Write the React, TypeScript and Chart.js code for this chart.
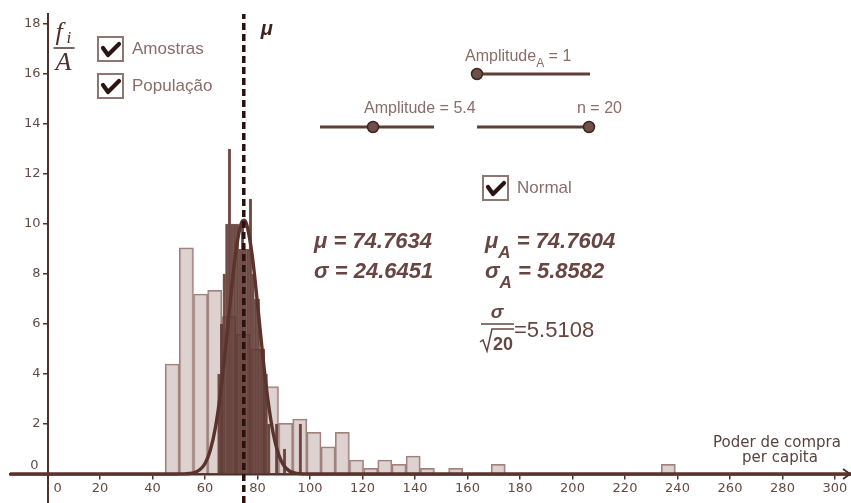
import React, { useEffect, useRef } from 'react';
import { Chart, registerables } from 'chart.js';

Chart.register(...registerables);

// ---- axis ranges / ticks ----
const X_MIN = -14.3;
const X_MAX = 306.1;
const Y_MIN = -1.16;
const Y_MAX = 18.4;
const X_TICK_STEP = 20;
const Y_TICK_STEP = 2;

// ---- population histogram (Amplitude = 5.4), bin centres and f_i/A ----
const popCenters = [
  47.5, 52.9, 58.3, 63.7, 69.1, 74.5, 79.9, 85.3, 90.7, 96.1, 101.5, 106.9,
  112.3, 117.7, 123.1, 128.5, 133.9, 139.3, 144.7, 150.1, 155.5, 160.9, 166.3, 171.7,
  177.1, 182.5, 187.9, 193.3, 198.7, 204.1, 209.5, 214.9, 220.3, 225.7, 231.1, 236.5,
];
const popHeights = [
  4.4, 9.05, 7.2, 7.35, 6.3, 5.6, 5.0, 3.5, 2.03, 2.2, 1.67, 1.09,
  1.67, 0.56, 0.23, 0.56, 0.39, 0.72, 0.23, 0, 0.23, 0, 0, 0.39,
  0, 0, 0, 0, 0, 0, 0, 0, 0, 0, 0, 0.39,
];

// ---- sample means histogram (Amplitude_A = 1) ----
const sampleCenters = [
  65.3, 66.3, 67.3, 68.3, 69.3, 70.3, 71.3, 72.3, 73.3, 74.3, 75.3, 76.3,
  77.3, 78.3, 79.3, 80.3, 81.3, 82.3, 83.3, 84.3, 85.3, 86.3, 87.3, 88.3,
  89.3, 90.3, 91.3, 92.3, 93.3, 94.3, 95.3, 96.3,
];
const sampleHeights = [
  4, 6, 8, 10, 13, 10, 10, 10, 9, 10, 9, 9,
  11, 8, 7, 7, 5, 5, 4, 2, 0, 0, 2, 0,
  0, 1, 0, 0, 0, 0, 0, 2,
];

// ---- normal curve ----
const curveX = [
  -14.3, 44, 48, 52, 54, 56, 58, 60, 62, 64, 66, 68, 70, 72, 74, 75, 76, 78,
  80, 82, 84, 86, 88, 90, 92, 94, 96, 100, 306.1,
];
const curveY = [
  0, 0, 0, 0.005, 0.019, 0.06, 0.17, 0.42, 0.95, 1.88, 3.32, 5.22, 7.3, 9.09, 10.07, 10.15, 9.93, 8.72,
  6.81, 4.73, 2.93, 1.61, 0.79, 0.34, 0.13, 0.046, 0.014, 0, 0,
];

// ---- statistics / widget values ----
const MU_POP = 74.7634;
const SIGMA_POP = 24.6451;
const MU_A = 74.7604;
const SIGMA_A = 5.8582;
const SE = 5.5108;
const N_SAMPLE = 20;
const AMPLITUDE = 5.4;
const AMPLITUDE_A = 1;

const AXIS_COLOR = '#4f2f2a';
const TICK_COLOR = '#634a45';
const WIDGET_TEXT = '#8a6d68';
const STAT_TEXT = '#674540';

function drawCheckbox(ctx: CanvasRenderingContext2D, x: number, y: number, label: string) {
  const w = 27;
  const h = 26;
  ctx.save();
  ctx.fillStyle = '#ffffff';
  ctx.fillRect(x, y, w, h);
  ctx.strokeStyle = '#8f7672';
  ctx.lineWidth = 2;
  ctx.strokeRect(x + 1, y + 1, w - 2, h - 2);
  ctx.strokeStyle = '#2b1512';
  ctx.lineWidth = 4.2;
  ctx.lineCap = 'round';
  ctx.lineJoin = 'round';
  ctx.beginPath();
  ctx.moveTo(x + 6, y + 12);
  ctx.lineTo(x + 11, y + 19);
  ctx.lineTo(x + 22, y + 8);
  ctx.stroke();
  ctx.fillStyle = WIDGET_TEXT;
  ctx.font = '17px "Liberation Sans"';
  ctx.textBaseline = 'middle';
  ctx.textAlign = 'left';
  ctx.fillText(label, x + w + 8, y + h / 2);
  ctx.restore();
}

function drawSlider(ctx: CanvasRenderingContext2D, x1: number, x2: number, y: number, p: number) {
  ctx.save();
  ctx.strokeStyle = '#5e3e39';
  ctx.lineWidth = 3;
  ctx.beginPath();
  ctx.moveTo(x1, y);
  ctx.lineTo(x2, y);
  ctx.stroke();
  ctx.beginPath();
  ctx.arc(p, y, 5.5, 0, Math.PI * 2);
  ctx.fillStyle = '#6f4f4a';
  ctx.fill();
  ctx.strokeStyle = '#3d2521';
  ctx.lineWidth = 1.5;
  ctx.stroke();
  ctx.restore();
}

const boldIt = (s: number) => `italic bold ${s}px "Liberation Sans"`;

const overlay = {
  id: 'overlay',
  afterDraw(chart: any) {
    const { ctx, scales, chartArea } = chart;
    const xs = scales.x;
    const ys = scales.y;
    const x0 = xs.getPixelForValue(0);
    const y0 = ys.getPixelForValue(0);
    ctx.save();

    // y tick labels, from the y scale's own ticks
    ctx.fillStyle = TICK_COLOR;
    ctx.font = '13px "DejaVu Sans"';
    ctx.textBaseline = 'middle';
    ctx.textAlign = 'right';
    for (const t of ys.ticks) {
      const py = ys.getPixelForValue(t.value);
      if (t.value === 0) ctx.fillText('0', x0 - 9, py - 8);
      else ctx.fillText(String(t.value), x0 - 7, py);
    }
    // x zero label (GeoGebra style)
    ctx.textAlign = 'center';
    ctx.fillText('0', x0 + 10, y0 + 15);

    // arrow at the end of x axis
    ctx.strokeStyle = AXIS_COLOR;
    ctx.lineWidth = 2;
    ctx.beginPath();
    ctx.moveTo(chartArea.right - 8, y0 - 5);
    ctx.lineTo(chartArea.right - 1, y0);
    ctx.lineTo(chartArea.right - 8, y0 + 5);
    ctx.stroke();

    // x axis title
    ctx.fillStyle = '#5a433f';
    ctx.font = '15px "DejaVu Sans"';
    ctx.textAlign = 'center';
    ctx.textBaseline = 'alphabetic';
    ctx.fillText('Poder de compra', chartArea.right - 74, y0 - 27);
    ctx.fillText('per capita', chartArea.right - 71, y0 - 12);

    // y axis title f_i / A
    ctx.fillStyle = '#4f302b';
    ctx.textAlign = 'left';
    ctx.font = 'italic 26px "Liberation Serif"';
    ctx.fillText('f', x0 + 8, 40);
    ctx.font = 'italic 17px "Liberation Serif"';
    ctx.fillText('i', x0 + 19, 43);
    ctx.strokeStyle = '#4f302b';
    ctx.lineWidth = 1.5;
    ctx.beginPath();
    ctx.moveTo(x0 + 6, 48);
    ctx.lineTo(x0 + 27, 48);
    ctx.stroke();
    ctx.font = 'italic 26px "Liberation Serif"';
    ctx.textAlign = 'center';
    ctx.fillText('A', x0 + 16, 70);

    // mu label by the dashed line
    const xm = xs.getPixelForValue(MU_POP);
    ctx.fillStyle = '#3e221e';
    ctx.font = boldIt(20);
    ctx.textAlign = 'left';
    ctx.fillText('μ', xm + 17, 35);

    // checkboxes
    drawCheckbox(ctx, 97, 36, 'Amostras');
    drawCheckbox(ctx, 97, 73, 'População');
    drawCheckbox(ctx, 482, 175, 'Normal');

    // sliders
    drawSlider(ctx, 477, 590, 74, 477);
    drawSlider(ctx, 320, 434, 127, 373);
    drawSlider(ctx, 477, 590, 127, 589);

    ctx.fillStyle = WIDGET_TEXT;
    ctx.textAlign = 'left';
    ctx.textBaseline = 'alphabetic';
    let cx = 465;
    ctx.font = '16px "Liberation Sans"';
    ctx.fillText('Amplitude', cx, 61);
    cx += ctx.measureText('Amplitude').width;
    ctx.font = '12px "Liberation Sans"';
    ctx.fillText('A', cx, 67);
    cx += ctx.measureText('A').width;
    ctx.font = '16px "Liberation Sans"';
    ctx.fillText(` = ${AMPLITUDE_A}`, cx, 61);
    ctx.fillText(`Amplitude = ${AMPLITUDE}`, 364, 113);
    ctx.fillText(`n = ${N_SAMPLE}`, 577, 113);

    // statistics
    ctx.fillStyle = STAT_TEXT;
    ctx.font = boldIt(22);
    ctx.fillText(`μ = ${MU_POP}`, 314, 248);
    ctx.fillText(`σ = ${SIGMA_POP}`, 314, 278);

    cx = 485;
    ctx.fillText('μ', cx, 248);
    cx += ctx.measureText('μ').width;
    ctx.font = boldIt(17);
    ctx.fillText('A', cx, 258);
    cx += ctx.measureText('A').width;
    ctx.font = boldIt(22);
    ctx.fillText(` = ${MU_A}`, cx, 248);

    cx = 485;
    ctx.fillText('σ', cx, 278);
    cx += ctx.measureText('σ').width;
    ctx.font = boldIt(17);
    ctx.fillText('A', cx, 288);
    cx += ctx.measureText('A').width;
    ctx.font = boldIt(22);
    ctx.fillText(` = ${SIGMA_A}`, cx, 278);

    // sigma / sqrt(n)
    ctx.font = boldIt(19);
    ctx.textAlign = 'center';
    ctx.fillText('σ', 497, 318);
    ctx.strokeStyle = STAT_TEXT;
    ctx.lineWidth = 1.5;
    ctx.beginPath();
    ctx.moveTo(481, 324);
    ctx.lineTo(514, 324);
    ctx.stroke();
    ctx.beginPath();
    ctx.moveTo(480, 342);
    ctx.lineTo(483, 340);
    ctx.lineTo(487, 351);
    ctx.lineTo(492, 329);
    ctx.lineTo(514, 329);
    ctx.stroke();
    ctx.textAlign = 'left';
    ctx.font = 'bold 18px "Liberation Sans"';
    ctx.fillText(`${N_SAMPLE}`, 493, 350);
    ctx.font = '22px "Liberation Sans"';
    ctx.fillText(`=${SE}`, 514, 337);

    ctx.restore();
  },
};

export default function App() {
  const ref = useRef<HTMLCanvasElement | null>(null);

  useEffect(() => {
    const canvas = ref.current;
    if (!canvas) return;
    const chart = new Chart(canvas, {
      type: 'bar',
      data: {
        datasets: [
          {
            type: 'line',
            label: 'μ',
            data: [
              { x: MU_POP, y: Y_MIN },
              { x: MU_POP, y: Y_MAX },
            ],
            xAxisID: 'x',
            yAxisID: 'y',
            borderColor: '#2a110d',
            borderWidth: 3.5,
            borderDash: [7, 4],
            pointRadius: 0,
            order: 0,
          } as any,
          {
            type: 'line',
            label: 'Normal',
            data: curveX.map((v, i) => ({ x: v, y: curveY[i] })),
            xAxisID: 'x',
            yAxisID: 'y',
            borderColor: '#5b332d',
            borderWidth: 3.4,
            pointRadius: 0,
            cubicInterpolationMode: 'monotone',
            order: 1,
          } as any,
          {
            type: 'bar',
            label: 'Amostras',
            data: sampleCenters.map((v, i) => ({ x: v, y: sampleHeights[i] })),
            xAxisID: 'xs',
            yAxisID: 'y',
            backgroundColor: 'rgba(100, 58, 52, 0.7)',
            borderColor: 'rgba(90, 52, 46, 0.8)',
            borderWidth: 1,
            grouped: false,
            barPercentage: 1,
            categoryPercentage: 1,
            order: 2,
          } as any,
          {
            type: 'bar',
            label: 'População',
            data: popCenters.map((v, i) => ({ x: v, y: popHeights[i] })),
            xAxisID: 'x',
            yAxisID: 'y',
            backgroundColor: 'rgba(214, 199, 196, 0.8)',
            borderColor: '#a0817c',
            borderWidth: 1.5,
            grouped: false,
            barPercentage: 1,
            categoryPercentage: 1,
            order: 3,
          } as any,
        ],
      },
      options: {
        responsive: false,
        animation: false,
        devicePixelRatio: 1,
        layout: { padding: { left: 10, top: 14, right: 0, bottom: 0 } },
        plugins: { legend: { display: false }, tooltip: { enabled: false } },
        scales: {
          x: {
            type: 'linear',
            axis: 'x',
            position: { y: 0 },
            min: X_MIN,
            max: X_MAX,
            offset: false,
            grid: {
              display: true,
              drawOnChartArea: false,
              drawTicks: true,
              tickLength: 4,
              color: AXIS_COLOR,
              lineWidth: 1.5,
              offset: false,
            },
            border: { display: true, color: AXIS_COLOR, width: 2.5 },
            ticks: {
              stepSize: X_TICK_STEP,
              includeBounds: false,
              autoSkip: false,
              maxRotation: 0,
              padding: 3,
              color: TICK_COLOR,
              font: { family: 'DejaVu Sans', size: 13 },
              callback: (v: any) => (Number(v) === 0 ? null : String(v)),
            },
            afterFit: (s: any) => {
              s.paddingLeft = 0;
              s.paddingRight = 0;
            },
          },
          xs: {
            type: 'linear',
            axis: 'x',
            display: false,
            min: X_MIN,
            max: X_MAX,
            offset: false,
            grid: { offset: false },
            ticks: { stepSize: X_TICK_STEP, includeBounds: false },
          },
          y: {
            type: 'linear',
            axis: 'y',
            position: { x: 0 },
            min: Y_MIN,
            max: Y_MAX,
            grid: {
              display: true,
              drawOnChartArea: false,
              drawTicks: true,
              tickLength: 4,
              color: AXIS_COLOR,
              lineWidth: 1.5,
            },
            border: { display: true, color: AXIS_COLOR, width: 2 },
            ticks: {
              display: false,
              stepSize: Y_TICK_STEP,
              includeBounds: false,
              autoSkip: false,
            },
            afterFit: (s: any) => {
              s.paddingTop = 0;
              s.paddingBottom = 0;
            },
          },
        } as any,
      },
      plugins: [overlay as any],
    });
    return () => chart.destroy();
  }, []);

  return (
    <div style={{ position: 'fixed', left: 0, top: 0, width: 851, height: 503, background: '#ffffff' }}>
      <canvas ref={ref} width={851} height={503} style={{ display: 'block' }} />
    </div>
  );
}
